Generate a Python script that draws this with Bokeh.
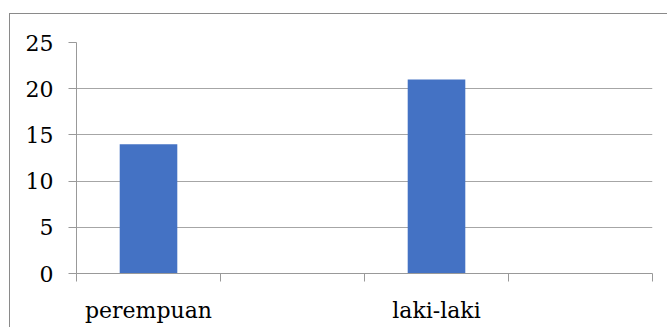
from bokeh.plotting import figure
from bokeh.models import Range1d, FixedTicker
from bokeh.embed import file_html
from bokeh.resources import INLINE

# data
categories = ["perempuan", "", "laki-laki", ""]
values = [14, None, 21, None]
y_ticks = [0, 5, 10, 15, 20, 25]

FONT = "DejaVu Serif"
BAR = "#4472C4"

xs = [i + 0.5 for i, v in enumerate(values) if v is not None]
tops = [v for v in values if v is not None]

p = figure(width=658, height=314, output_backend="svg", toolbar_location=None,
           x_range=Range1d(0, len(categories)), y_range=Range1d(0, 25),
           min_border_left=66, min_border_right=16, min_border_top=28, min_border_bottom=55,
           margin=(13, 0, 0, 9),
           styles={"border-top": "1px solid #8a8a8a", "border-left": "1px solid #8a8a8a"})
p.outline_line_color = None
p.background_fill_color = "white"
p.border_fill_color = "white"

p.vbar(x=xs, top=tops, width=0.4, color=BAR, line_color=None)

# y axis
p.yaxis.ticker = FixedTicker(ticks=y_ticks)
p.yaxis.major_label_text_font = FONT
p.yaxis.major_label_text_font_size = "22px"
p.yaxis.major_label_text_color = "black"
p.yaxis.major_tick_out = 8
p.yaxis.major_tick_in = 0
p.yaxis.minor_tick_line_color = None
p.yaxis.axis_line_color = "#999999"
p.yaxis.major_tick_line_color = "#999999"
p.yaxis.major_label_standoff = 15

# x axis
label_pos = [i + 0.5 for i, c in enumerate(categories) if c]
p.xaxis.ticker = FixedTicker(ticks=label_pos, minor_ticks=list(range(len(categories) + 1)))
p.xaxis.major_label_overrides = {i + 0.5: c for i, c in enumerate(categories) if c}
p.xaxis.major_label_text_font = FONT
p.xaxis.major_label_text_font_size = "22px"
p.xaxis.major_label_text_color = "black"
p.xaxis.major_tick_out = 0
p.xaxis.major_tick_in = 0
p.xaxis.minor_tick_out = 8
p.xaxis.minor_tick_in = 0
p.xaxis.minor_tick_line_color = "#999999"
p.xaxis.axis_line_color = "#999999"
p.xaxis.major_label_standoff = 16

p.xgrid.grid_line_color = None
p.ygrid.ticker = FixedTicker(ticks=y_ticks)
p.ygrid.grid_line_color = "#a6a6a6"

open("out.html", "w").write(file_html(p, INLINE))
